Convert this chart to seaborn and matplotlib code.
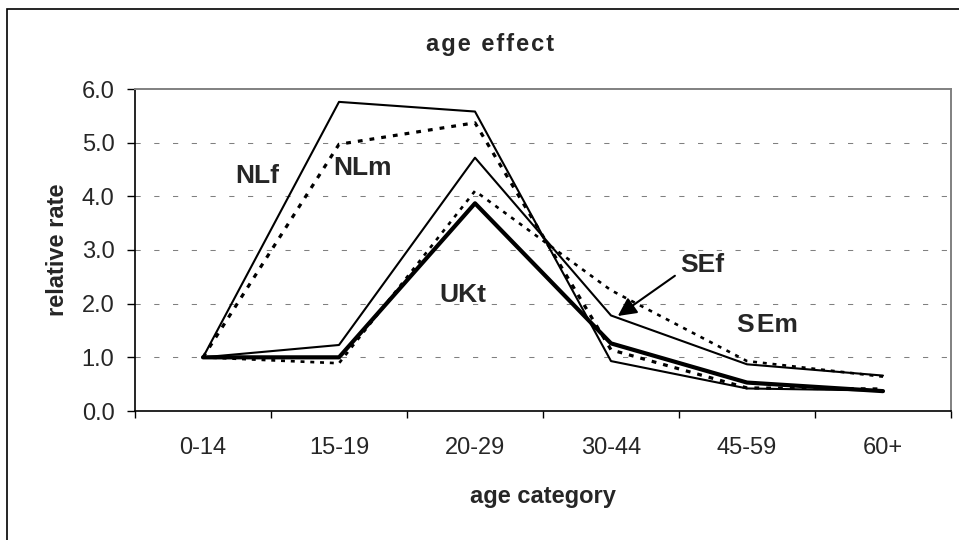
import numpy as np
import pandas as pd
import matplotlib
matplotlib.use("Agg")
import matplotlib.pyplot as plt
from matplotlib.patches import Rectangle
import seaborn as sns

# data
age_groups = ["0-14", "15-19", "20-29", "30-44", "45-59", "60+"]
nl_f = [1.0, 5.76, 5.58, 0.93, 0.42, 0.38]
nl_m = [1.0, 4.97, 5.37, 1.14, 0.43, 0.41]
uk_t = [1.0, 1.0, 3.87, 1.26, 0.53, 0.37]
se_f = [1.0, 1.23, 4.72, 1.78, 0.87, 0.66]
se_m = [1.0, 0.89, 4.10, 2.25, 0.93, 0.64]

y_ticks = [0, 1, 2, 3, 4, 5, 6]

sns.set_style("white")
plt.rcParams["font.family"] = ["Liberation Sans", "DejaVu Sans"]

W, H = 959, 540
fig = plt.figure(figsize=(W / 100, H / 100), dpi=100)
ax = fig.add_axes([135 / W, 1 - 411 / H, 816 / W, 322 / H])

# --- lines ---
dotted = (0, (1.5, 2.2))
sns.lineplot(x=age_groups, y=nl_f, ax=ax, color="black", lw=1.5, sort=False)
sns.lineplot(x=age_groups, y=nl_m, ax=ax, color="black", lw=2.3, linestyle=dotted, sort=False)
sns.lineplot(x=age_groups, y=se_f, ax=ax, color="black", lw=1.5, sort=False)
sns.lineplot(x=age_groups, y=se_m, ax=ax, color="black", lw=1.9, linestyle=dotted, sort=False)
sns.lineplot(x=age_groups, y=uk_t, ax=ax, color="black", lw=3.0, sort=False)

# --- axes ---
ax.set_xlim(-0.5, 5.5)
ax.set_ylim(0, 6)
ax.set_yticks(y_ticks)
ax.set_yticklabels([f"{v:.1f}" for v in y_ticks], fontsize=17)
ax.set_xticks(np.arange(-0.5, 6, 1))
ax.set_xticklabels([])
ax.set_xticks(range(len(age_groups)), minor=True)
ax.set_xticklabels(age_groups, minor=True, fontsize=17)
ax.tick_params(axis="y", which="major", direction="out", length=5.8, width=1, color="black", pad=9, left=True)
ax.tick_params(axis="x", which="major", direction="out", length=5, width=1, color="black", bottom=True)
ax.tick_params(axis="x", which="minor", length=0, pad=19, bottom=True)

for y in y_ticks[1:-1]:
    ax.axhline(y, color="#808080", lw=0.75, linestyle=(0, (5, 13)), zorder=0)

for s in ["left", "bottom"]:
    ax.spines[s].set_color("black")
    ax.spines[s].set_linewidth(1.2)
for s in ["top", "right"]:
    ax.spines[s].set_color("#808080")
    ax.spines[s].set_linewidth(1.4)
ax.set_xlabel("")
ax.set_ylabel("")

# --- series labels ---
lab = dict(fontsize=19, fontweight="bold", ha="center", va="baseline")
ax.text(0.40, 4.25, "NLf", **lab)
ax.text(1.17, 4.40, "NLm", **lab)
ax.text(1.91, 2.03, "UKt", **lab)
ax.text(3.67, 2.59, "SEf", **lab)
ax.text(4.15, 1.47, "S\u200aEm", **lab)
ax.annotate("", xy=(3.05, 1.77), xytext=(3.47, 2.52),
            arrowprops=dict(arrowstyle="-|>", color="black", lw=1.5,
                            mutation_scale=28, shrinkA=0, shrinkB=0))

# --- titles ---
title = "\u200a".join("age effect")
fig.text(490 / W, 1 - 44 / H, title, fontsize=17, fontweight="bold",
         ha="center", va="center")
fig.text(543 / W, 1 - 503 / H, "age category", fontsize=17, fontweight="bold",
         ha="center", va="baseline")
fig.text(57 / W, 1 - 250 / H, "relative rate", fontsize=17, fontweight="bold",
         ha="center", va="center", rotation=90)

# outer chart frame (cropped at right and bottom)
fig.patches.append(Rectangle((7 / W, -0.05), 2, (1 - 9 / H) + 0.05,
                             transform=fig.transFigure, fill=False,
                             edgecolor="black", lw=1.2))

fig.savefig("out.png", dpi=100)
